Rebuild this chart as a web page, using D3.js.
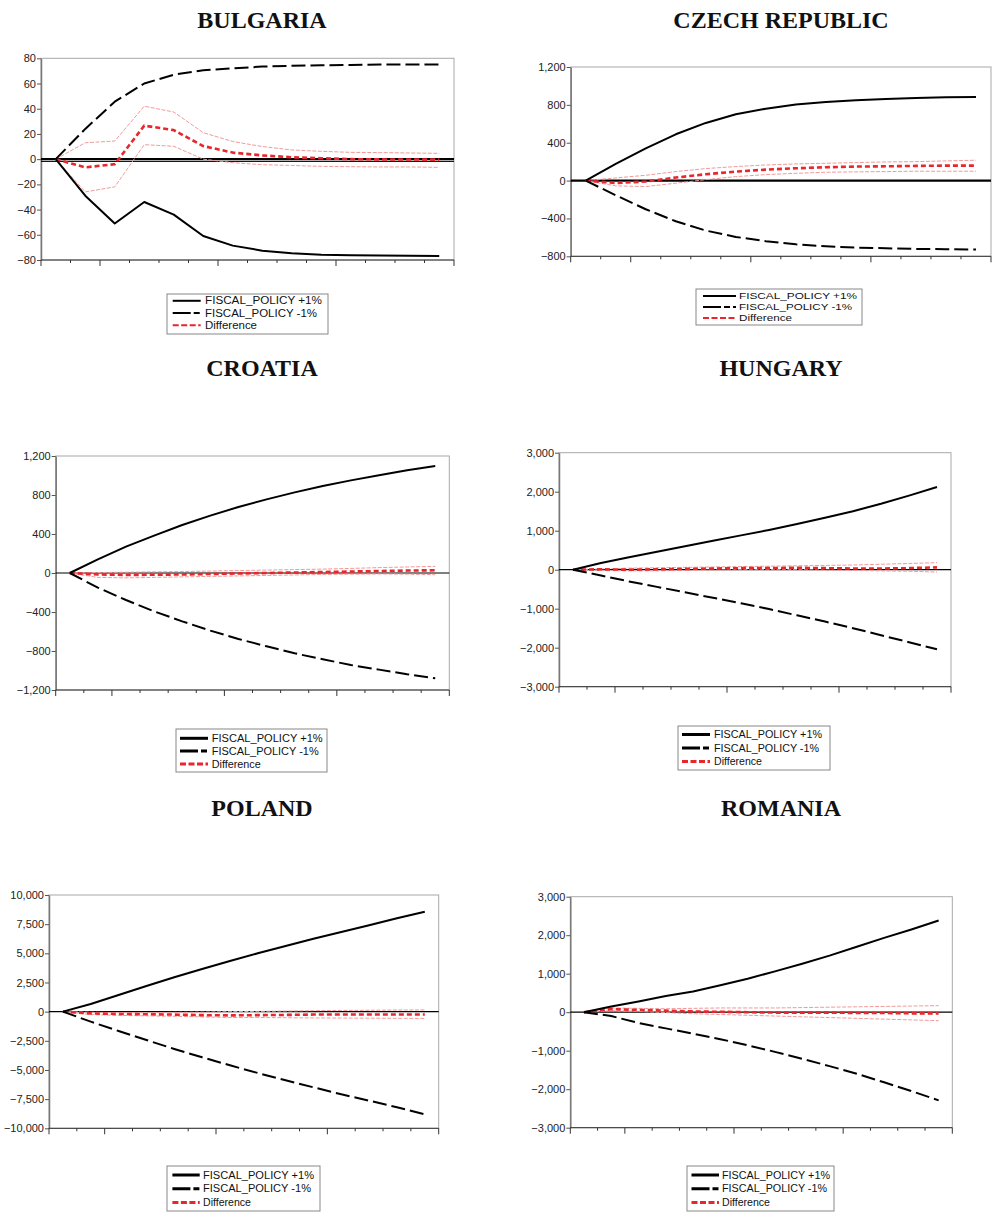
<!DOCTYPE html>
<html>
<head>
<meta charset="utf-8">
<script src="https://cdn.jsdelivr.net/npm/d3@7"></script>
<style>
  body { margin: 0; background: #fff; }
  svg { display: block; }
</style>
</head>
<body>
<svg id="chart"></svg>
<script>
var periods = [1,2,3,4,5,6,7,8,9,10,11,12,13,14];

// Bulgaria
var bgPlus  = [0,-29,-51,-34,-44,-61,-68.6,-72.6,-74.7,-75.8,-76.3,-76.5,-76.7,-76.8];
var bgMinus = [0,24,45.6,60,67,70.5,72,73.4,74,74.5,74.7,75,75,75];
var bgDiff  = [0,-6.5,-4,26.6,23,10.4,5.2,3,1.5,0.7,0,-0.2,-0.3,-0.4];
var bgUpper = [0,13,14.4,42,37.4,21,14,10,7.3,6.2,5.4,5.2,4.9,4.6];
var bgLower = [0,-26,-22,11.5,10.2,0,-2.8,-4.4,-5,-5.7,-6,-6.2,-6.2,-6.5];
var bgTicks = [-80,-60,-40,-20,0,20,40,60,80];

// Czech Republic
var czPlus  = [0,176,341,489,609,700,760,803,831,849,863,873,880,884];
var czMinus = [0,-155,-303,-430,-528,-595,-641,-673,-694,-708,-715,-722,-725,-729];
var czDiff  = [0,-25,-10,32,67,95,116,130,141,148,151,155,158,158];
var czUpper = [0,28,56,95,127,148,165,176,183,190,197,200,208,215];
var czLower = [0,-56,-63,-28,10,42,63,77,88,92,95,99,99,99];
var czTicks = [-800,-400,0,400,800,1200];

// Croatia
var hrPlus  = [0,140,270,383,492,588,677,755,827,892,950,1002,1053,1097];
var hrMinus = [0,-150,-277,-393,-496,-591,-677,-752,-824,-885,-944,-991,-1039,-1080];
var hrDiff  = [0,-15,-20,-18,-15,-10,-5,0,5,10,15,20,25,28];
var hrUpper = [0,5,8,12,15,20,25,30,35,40,47,55,62,68];
var hrLower = [0,-45,-50,-45,-40,-35,-30,-25,-20,-15,-12,-10,-12,-17];
var hrTicks = [-1200,-800,-400,0,400,800,1200];

// Hungary
var huPlus  = [0,170,320,460,600,740,880,1020,1170,1330,1500,1690,1900,2120];
var huMinus = [0,-150,-300,-440,-580,-720,-860,-1010,-1170,-1330,-1500,-1680,-1860,-2040];
var huDiff  = [0,10,0,10,20,30,40,40,50,40,30,30,40,60];
var huUpper = [0,20,40,50,60,70,80,90,100,110,120,140,160,180];
var huLower = [0,-20,-30,-30,-20,-10,0,0,0,-10,-20,-30,-40,-60];
var huTicks = [-3000,-2000,-1000,0,1000,2000,3000];

// Poland
var plPlus  = [0,657,1430,2200,2943,3657,4343,5000,5629,6257,6830,7400,8000,8571];
var plMinus = [0,-857,-1657,-2430,-3200,-3914,-4600,-5257,-5886,-6486,-7086,-7629,-8200,-8800];
var plDiff  = [0,-150,-200,-220,-250,-300,-320,-300,-280,-250,-250,-250,-250,-250];
var plUpper = [0,-50,-80,-80,-60,-40,0,20,50,80,100,120,140,150];
var plLower = [0,-250,-320,-360,-400,-450,-500,-500,-520,-540,-550,-560,-570,-580];
var plTicks = [-10000,-7500,-5000,-2500,0,2500,5000,7500,10000];

// Romania
var roPlus  = [0,150,280,420,540,700,870,1060,1260,1470,1700,1930,2150,2380];
var roMinus = [0,-100,-280,-420,-560,-700,-860,-1030,-1210,-1400,-1600,-1820,-2050,-2290];
var roDiff  = [0,80,60,40,20,10,0,-10,-10,-10,-20,-20,-30,-30];
var roUpper = [0,110,100,90,100,110,110,110,120,130,140,150,160,170];
var roLower = [0,40,20,-10,-40,-60,-80,-100,-120,-140,-160,-180,-200,-220];
var roTicks = [-3000,-2000,-1000,0,1000,2000,3000];

var legendLabels = ["FISCAL_POLICY +1%", "FISCAL_POLICY -1%", "Difference"];

var panels = [
  {title: "BULGARIA", tx: 262, ty: 28, l: 41, r: 454, t: 58.3, b: 260, ticks: bgTicks,
   plus: bgPlus, minus: bgMinus, diff: bgDiff, up: bgUpper, lo: bgLower, zeroW: 2.2, extra: -1.8,
   leg: {x: 167, y: 294, w: 161, h: 40, first: 6.8, row: 12.2, fs: 10, thick: 2,
         s0: 5.7, s1: 33.7, tx: 38, tw: [117, 112, 52]}},
  {title: "CZECH REPUBLIC", tx: 781, ty: 28, l: 570.7, r: 991, t: 67, b: 256.3, ticks: czTicks,
   plus: czPlus, minus: czMinus, diff: czDiff, up: czUpper, lo: czLower, zeroW: 2.2,
   leg: {x: 696, y: 289, w: 166, h: 36, first: 7, row: 11, fs: 9.5, thick: 2,
         s0: 7, s1: 40, tx: 43, tw: [118, 113, 53]}},
  {title: "CROATIA", tx: 262, ty: 376, l: 55.7, r: 449.3, t: 456, b: 690, ticks: hrTicks,
   plus: hrPlus, minus: hrMinus, diff: hrDiff, up: hrUpper, lo: hrLower, zeroW: 1.2,
   leg: {x: 176, y: 729, w: 151, h: 43, first: 9.3, row: 12.8, fs: 10, thick: 3,
         s0: 4, s1: 32, tx: 35.7, tw: [111, 107, 49]}},
  {title: "HUNGARY", tx: 781, ty: 376, l: 559, r: 951, t: 452.7, b: 686.7, ticks: huTicks,
   plus: huPlus, minus: huMinus, diff: huDiff, up: huUpper, lo: huLower, zeroW: 1.2,
   leg: {x: 678, y: 726, w: 152, h: 44, first: 8.5, row: 13.5, fs: 10, thick: 3,
         s0: 4, s1: 32, tx: 36, tw: [108, 105, 48]}},
  {title: "POLAND", tx: 262, ty: 816, l: 49, r: 438.7, t: 895, b: 1128.3, ticks: plTicks,
   plus: plPlus, minus: plMinus, diff: plDiff, up: plUpper, lo: plLower, zeroW: 1.2,
   leg: {x: 167, y: 1166, w: 153, h: 45, first: 9, row: 13.8, fs: 10, thick: 3,
         s0: 5.4, s1: 32.7, tx: 36, tw: [111, 108, 48]}},
  {title: "ROMANIA", tx: 781, ty: 816, l: 570.3, r: 952.3, t: 896.7, b: 1127.7, ticks: roTicks,
   plus: roPlus, minus: roMinus, diff: roDiff, up: roUpper, lo: roLower, zeroW: 1.2,
   leg: {x: 687, y: 1166, w: 147, h: 45, first: 9, row: 13.8, fs: 10, thick: 3,
         s0: 4.5, s1: 32, tx: 35, tw: [108, 105, 48]}}
];

var svg = d3.select("#chart").attr("width", 992).attr("height", 1213);
var fmt = d3.format(",");

panels.forEach(function(p) {
  var g = svg.append("g");
  var x = d3.scaleLinear().domain([0.5, 14.5]).range([p.l, p.r]);
  var y = d3.scaleLinear().domain([p.ticks[0], p.ticks[p.ticks.length - 1]]).range([p.b, p.t]);

  g.append("text").attr("x", p.tx).attr("y", p.ty)
    .attr("text-anchor", "middle")
    .style("font-family", "'Liberation Serif', 'Times New Roman', serif")
    .style("font-weight", "bold").style("font-size", "24px").style("fill", "#111")
    .text(p.title);

  // frame
  g.append("rect").attr("x", p.l).attr("y", p.t)
    .attr("width", p.r - p.l).attr("height", p.b - p.t)
    .attr("fill", "none").attr("stroke", "#a8a8a8").attr("stroke-width", 1);

  // y axis
  var ya = g.append("g").attr("transform", "translate(" + p.l + ",0)")
    .call(d3.axisLeft(y).tickValues(p.ticks).tickFormat(fmt).tickSize(4).tickSizeOuter(0));
  ya.select(".domain").attr("stroke", "#777").attr("stroke-width", 1.5);
  ya.selectAll(".tick line").attr("stroke", "#555");
  ya.selectAll(".tick text").attr("x", -5)
    .style("font-family", "'Liberation Sans', Arial, sans-serif")
    .style("font-size", "11px").style("fill", "#222");

  // x axis ticks (no labels)
  var bounds = d3.range(0, 15).map(function(k) { return k + 0.5; });
  g.append("line").attr("x1", p.l).attr("x2", p.r).attr("y1", p.b).attr("y2", p.b)
    .attr("stroke", "#333").attr("stroke-width", 1);
  g.selectAll(".xt").data(bounds).enter().append("line")
    .attr("x1", function(d) { return x(d); }).attr("x2", function(d) { return x(d); })
    .attr("y1", p.b)
    .attr("y2", function(d, i) { return p.b + ((i === 0 || i === 2 || i === 6 || i === 10 || i === 14) ? 6 : 3); })
    .attr("stroke", "#333").attr("stroke-width", 1);

  // zero line
  g.append("line").attr("x1", p.l).attr("x2", p.r).attr("y1", y(0)).attr("y2", y(0))
    .attr("stroke", "#000").attr("stroke-width", p.zeroW);
  if (p.extra !== undefined) {
    g.append("line").attr("x1", p.l).attr("x2", p.r).attr("y1", y(p.extra)).attr("y2", y(p.extra))
      .attr("stroke", "#000").attr("stroke-width", 1);
  }

  var line = d3.line().x(function(d, i) { return x(periods[i]); }).y(function(d) { return y(d); });

  var series = [
    {v: p.up, stroke: "#f29a9a", w: 1, dash: "4,1.5"},
    {v: p.lo, stroke: "#f29a9a", w: 1, dash: "4,1.5"},
    {v: p.diff, stroke: "#e8262c", w: 2.6, dash: "5,3"},
    {v: p.minus, stroke: "#000", w: 2, dash: "14,5"},
    {v: p.plus, stroke: "#000", w: 2, dash: null}
  ];
  series.forEach(function(s) {
    g.append("path").datum(s.v).attr("d", line)
      .attr("fill", "none").attr("stroke", s.stroke).attr("stroke-width", s.w)
      .attr("stroke-dasharray", s.dash).attr("stroke-linejoin", "round");
  });

  // legend
  var L = p.leg;
  var lg = g.append("g").attr("transform", "translate(" + L.x + "," + L.y + ")");
  lg.append("rect").attr("width", L.w).attr("height", L.h)
    .attr("fill", "#fff").attr("stroke", "#888").attr("stroke-width", 1);
  var styles = [
    {stroke: "#000", dash: null},
    {stroke: "#000", dash: "18,3,6,3"},
    {stroke: "#e8262c", dash: "6,2.5"}
  ];
  legendLabels.forEach(function(lab, i) {
    var cy = L.first + L.row * i;
    lg.append("line").attr("x1", L.s0).attr("x2", L.s1).attr("y1", cy).attr("y2", cy)
      .attr("stroke", styles[i].stroke).attr("stroke-width", L.thick)
      .attr("stroke-dasharray", styles[i].dash);
    lg.append("text").attr("x", L.tx).attr("y", cy + L.fs * 0.36)
      .attr("textLength", L.tw[i]).attr("lengthAdjust", "spacingAndGlyphs")
      .style("font-family", "'Liberation Sans', Arial, sans-serif")
      .style("font-size", L.fs + "px").style("fill", "#111")
      .text(lab);
  });
});
</script>
</body>
</html>
